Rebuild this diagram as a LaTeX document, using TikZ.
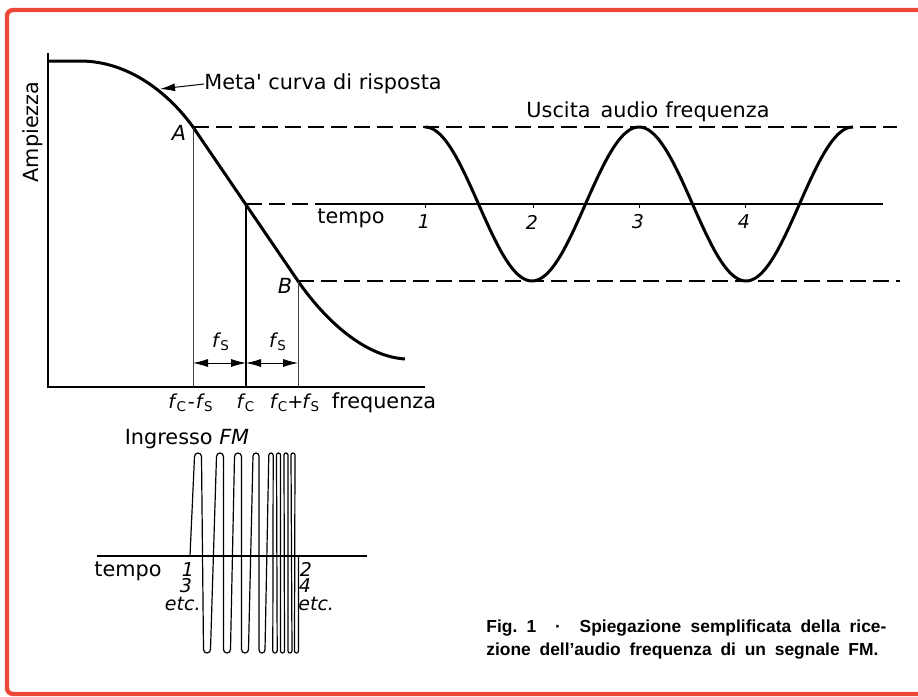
\documentclass[tikz,border=0pt]{standalone}
\usepackage{fontspec}
\setmainfont{DejaVu Sans}
\newfontfamily\captfont{Liberation Sans}
\usetikzlibrary{arrows.meta,positioning}
\definecolor{framered}{RGB}{236,72,58}

\begin{document}
\begin{tikzpicture}[x=0.5pt, y=-0.5pt, >={Latex[length=7.5pt,width=4pt]},
  lbl/.style={inner sep=0pt, font=\fontsize{10.4}{12}\selectfont},
  flbl/.style={inner sep=0pt, font=\fontsize{9.6}{11}\selectfont},
  num/.style={inner sep=0pt, font=\fontsize{9.5}{11}\selectfont\itshape},
  capt/.style={inner sep=0pt, anchor=west, font=\fontsize{8.7}{10}\selectfont\captfont\bfseries\frenchspacing},
  curve/.style={line width=1.5pt, line join=round},
  guide/.style={line width=0.6pt, dash pattern=on 8pt off 3.5pt},
  drop/.style={line width=0.4pt, black!75},
  axisline/.style={line width=0.8pt},
  fmwave/.style={line width=0.6pt}]
  \useasboundingbox (0,0) rectangle (918,697);
  % frame
  \draw[framered, line width=2.2pt, rounded corners=3pt] (960,10) -- (7,10) -- (7,694) -- (960,694);

  % response curve
  \coordinate (origin) at (48,387);
  \coordinate (ytop) at (48,53);
  \coordinate (xend) at (425,387);
  \draw[axisline] (ytop) -- (origin) -- (xend);
  \coordinate (A) at (193,127);
  \coordinate (fc) at (246,204);
  \coordinate (B) at (298,281);
  \draw[curve] (48,61) -- (80,61) .. controls (130,61) and (170,95) .. (A) -- (B)
    .. controls (320,313) and (360,356) .. (405,359);
  \draw[drop] (A) -- (A |- origin);
  \draw[axisline] (fc) -- (fc |- origin);
  \draw[drop] (B) -- (B |- origin);
  \node[lbl, font=\fontsize{10.4}{12}\selectfont\itshape] (lA) at (179,133) {A};
  \node[lbl, font=\fontsize{10.4}{12}\selectfont\itshape] (lB) at (285,286) {B};
  \node[lbl, rotate=90] (ampl) at (33,132) {Ampiezza};
  \node[lbl, anchor=west] (meta) at (204,84) {Meta\textquotesingle\ curva di risposta};
  \coordinate (tip) at (160,89);
  \draw[->, line width=0.5pt] (meta.west) -- (tip);

  % side bands
  \coordinate (band) at (0,363);
  \draw[<->, line width=0.4pt] (A |- band) -- (fc |- band);
  \draw[<->, line width=0.4pt] (fc |- band) -- (B |- band);
  \node[flbl] (fs1) at (221,342) {\textit{f}\kern-0.5pt\textsubscript{S}};
  \node[flbl] (fs2) at (278,342) {\textit{f}\kern-0.5pt\textsubscript{S}};
  \node[flbl] (lo) at (191,403) {\textit{f}\kern-0.5pt\textsubscript{C}\kern0.5pt-\kern0.5pt\textit{f}\kern-0.5pt\textsubscript{S}};
  \node[flbl] (mid) at (246,403) {\textit{f}\kern-0.5pt\textsubscript{C}};
  \node[flbl] (hi) at (295,403) {\textit{f}\kern-0.5pt\textsubscript{C}\kern-0.5pt+\kern-0.5pt\textit{f}\kern-0.5pt\textsubscript{S}};
  \node[lbl] (freq) at (384,403) {frequenza};

  % audio output
  \coordinate (topend) at (897,127);
  \coordinate (tstart) at (318,204);
  \coordinate (tend) at (883,204);
  \coordinate (botend) at (900,281);
  \draw[guide] (A) -- (topend);
  \draw[guide] (fc) -- (tstart);
  \draw[axisline] (tstart) -- (tend);
  \draw[guide] (B) -- (botend);
  \draw[curve] plot[domain=0:720, samples=145, smooth, variable=\t] ({425+\t/360*214}, {204-77*cos(\t)});
  \foreach \x/\n in {425/1, 533/2, 639/3, 745/4} {
    \draw[line width=0.5pt] (\x,204) -- (\x,208);
    \node[num] (n\n) at (\x-1,222) {\n};
  }
  \node[lbl] (tempo1) at (351,218) {tempo};
  \node[lbl] (usc) at (648,112) {Uscita\hspace{5pt}audio\hspace{3.5pt}frequenza};

  % FM input
  \node[lbl] (ingr) at (187,439) {Ingresso \textit{FM}};
  \coordinate (fml) at (97,556);
  \coordinate (fmr) at (367,556);
  \draw[axisline] (fml) -- (fmr);
  \draw[fmwave] (190,556)
    \foreach \t/\b/\w in {198/207/3.5, 220/227/3.5, 238/245/3.5, 256/262/3, 271/275/2.2, 278.5/282.5/2, 286/290/2, 293/296.5/2} {
      -- (\t-\w,453+\w) arc[start angle=180, end angle=360, radius=\w]
      -- (\b-\w,653-\w) arc[start angle=180, end angle=0, radius=\w]
    } -- (298.5,556);
  \node[lbl] (tempo2) at (128,571) {tempo};
  \node[num] (l1) at (188,570) {1};
  \node[num] (l3) at (186,586) {3};
  \node[num, anchor=east] (l5) at (201,604) {etc.};
  \node[num] (r2) at (306,569) {2};
  \node[num] (r4) at (305,586) {4};
  \node[num, anchor=west] (r6) at (298,604) {etc.};

  % caption
  \node[capt] (cap1) at (486,628) {\makebox[200pt][s]{Fig.\ 1 \ · \ Spiegazione semplificata della rice-}};
  \node[capt] (cap2) at (486,651) {\makebox[196pt][s]{zione dell’audio frequenza di un segnale FM.}};
\end{tikzpicture}
\end{document}
